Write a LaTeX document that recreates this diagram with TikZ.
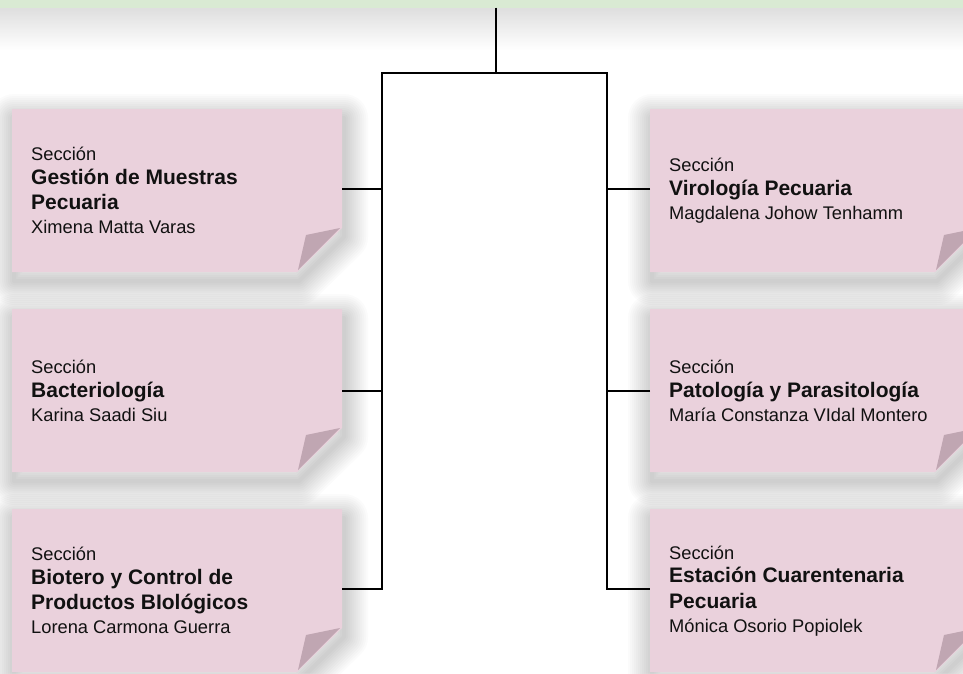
\documentclass[tikz,border=0pt]{standalone}
\usepackage{fontspec}
\setmainfont{Liberation Sans}
\usetikzlibrary{calc}
\definecolor{boxpink}{HTML}{EAD1DC}
\definecolor{foldpink}{HTML}{C0A6B2}
\definecolor{topgreen}{HTML}{D9EAD3}
\definecolor{txt}{HTML}{111111}
\tikzset{
  secnode/.style={anchor=north west, minimum width=330pt, minimum height=163pt,
    text width=292pt, inner xsep=19pt, inner ysep=0pt, align=left, text=txt},
  conn/.style={draw=black, line width=1.6pt},
  boxshape/.style={fill=boxpink},
  shadowring/.style={draw=black, line join=round, draw opacity=0.014, line width=#1},
  foldshape/.style={fill=foldpink},
}
\newcommand\SecLabel{\spaceskip=0pt\xspaceskip=0pt{\fontsize{18.3}{23}\selectfont Sección\par}\vspace{-2pt}}
\newcommand\SecTitle[1]{{\fontsize{21}{25.5}\selectfont\bfseries #1\par}}
\newcommand\SecName[1]{{\fontsize{18.3}{24}\selectfont #1\par}}
\newcommand\SecBox[3]{%
  \coordinate (#1nw) at (#2,#3);
  \foreach \w in {48,44,...,4} {
    \draw[shadowring=\w pt] ($(#1nw)+(2,9)$) -- ++(330,0) -- ++(0,119) -- ++(-45,44) -- ++(-285,0) -- cycle;
  }
  \fill[boxshape] (#1nw) -- ++(330,0) -- ++(0,119) -- ++(-45,44) -- ++(-285,0) -- cycle;
  \fill[foldshape] ($(#1nw)+(328,119)$) -- ($(#1nw)+(294,126)$) -- ($(#1nw)+(286,161)$) -- cycle;
}
\begin{document}
\begin{tikzpicture}[x=1pt,y=-1pt]
\useasboundingbox (0,0) rectangle (963,673);
\fill[white] (0,0) rectangle (963,673);
\shade[top color=black!13, bottom color=white] (0,7) rectangle (963,50);
\fill[topgreen] (0,0) rectangle (963,8);

\SecBox{a}{12}{109}
\SecBox{b}{12}{309}
\SecBox{c}{12}{509}
\SecBox{d}{650}{109}
\SecBox{e}{650}{309}
\SecBox{f}{650}{509}

\node[secnode] (a) at (anw) {\SecLabel\SecTitle{Gestión de Muestras\par Pecuaria}\SecName{Ximena Matta Varas}};
\node[secnode] (b) at (bnw) {\SecLabel\SecTitle{Bacteriología}\SecName{Karina Saadi Siu}};
\node[secnode] (c) at (cnw) {\SecLabel\SecTitle{Biotero y Control de\par Productos BIológicos}\SecName{Lorena Carmona Guerra}};
\node[secnode] (d) at (dnw) {\SecLabel\SecTitle{Virología Pecuaria}\SecName{Magdalena Johow Tenhamm}};
\node[secnode] (e) at (enw) {\SecLabel\SecTitle{Patología y Parasitología}\SecName{María Constanza VIdal Montero}};
\node[secnode] (f) at (fnw) {\SecLabel\SecTitle{Estación Cuarentenaria\par Pecuaria}\SecName{Mónica Osorio Popiolek}};

\coordinate (top) at (496,7.5);
\coordinate (hub) at (496,73);
\coordinate (lt) at (382,73);
\coordinate (rt) at (607,73);

\draw[conn] (top) -- (hub);
\draw[conn] ([yshift=2pt]c.east) -| (lt) -- (rt) |- ([yshift=2pt]f.west);
\draw[conn] ([yshift=1.5pt]a.east) -- ([yshift=1.5pt]a.east -| lt);
\draw[conn] (b.east) -- (b.east -| lt);
\draw[conn] ([yshift=1.5pt]d.west) -- ([yshift=1.5pt]d.west -| rt);
\draw[conn] (e.west) -- (e.west -| rt);
\end{tikzpicture}
\end{document}
